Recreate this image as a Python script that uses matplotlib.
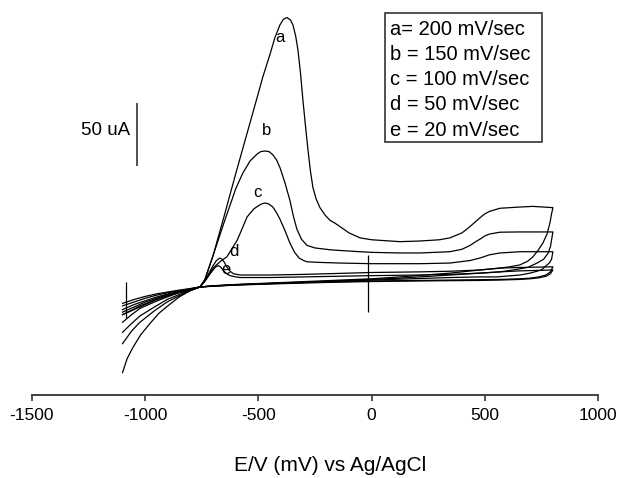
import numpy as np
import matplotlib.pyplot as plt

plt.rcParams['font.family'] = ['Liberation Sans', 'DejaVu Sans']

# cyclic voltammograms, potential in mV, current in uA (arbitrary zero)
# a = 200 mV/sec
a_fwd_E = [-1100, -1050, -1000, -950, -900, -850, -800, -758, -736, -700, -650, -600, -550, -500, -480,
           -450, -427, -405, -390, -374, -358, -347, -335, -325, -314, -303, -292, -281, -270, -259, -245,
           -228, -205, -184, -160, -140, -100, -51, 0, 125, 214, 300, 346, 400, 435, 460, 479, 500, 520,
           567, 655, 713, 801]
a_fwd_I = [-22, -18, -14, -10, -7, -4.5, -2.5, 0, 6, 25, 57, 90, 122, 154, 167,
           184, 198, 208, 212.5, 214, 212, 208, 199, 188, 170, 148, 128, 109, 92, 79, 70,
           63, 57, 53, 50.5, 48, 43, 39, 37.5, 36, 36.5, 37.5, 39, 43, 48, 52, 55, 58, 60,
           62.5, 63.5, 64, 63]
a_rev_E = [801, 795, 788, 775, 757, 735, 713, 690, 655, 610, 567, 479, 346, 125, 0, -200, -400,
           -600, -700, -758, -802, -850, -900, -940, -979, -1020, -1054, -1080, -1100]
a_rev_I = [63, 58, 51, 42, 35, 29, 24, 20.5, 17.5, 16, 15, 13.5, 11, 8, 6.5, 5, 3.5,
           2, 1, 0, -3, -8, -15, -21, -29, -38, -48, -57, -68]

# b = 150 mV/sec
b_fwd_E = [-1100, -1050, -1000, -950, -900, -850, -800, -758, -736, -700, -650, -600, -570, -537, -506,
           -490, -471, -453, -436, -420, -405, -383, -361, -345, -330, -310, -285, -250, -228, -180, -140,
           -51, 0, 125, 214, 346, 400, 435, 460, 479, 500, 520, 567, 655, 801]
b_fwd_I = [-20, -16, -12, -9, -6, -4, -2, 0, 6, 25, 52, 78, 90, 100, 105.5,
           107.5, 108, 107.5, 105, 101, 95, 83, 69, 56, 46, 38, 33, 31, 30.5, 29.5, 29,
           28, 27.5, 27, 27, 28, 30, 33, 36, 38, 40.5, 42, 43.5, 43.7, 43.7]
b_rev_E = [801, 790, 780, 760, 731, 690, 625, 567, 479, 346, 125, 0, -200, -400, -600, -700, -758,
           -802, -850, -904, -960, -1023, -1060, -1100]
b_rev_I = [43.7, 32, 27, 22, 19, 15.5, 13.5, 12, 11, 9.5, 7, 6, 4.5, 3.2, 1.8, 0.8, 0,
           -3, -7, -12, -19, -28, -35, -45]

# c = 100 mV/sec
c_fwd_E = [-1100, -1050, -1000, -950, -900, -850, -800, -758, -736, -700, -670, -639, -594, -570, -550,
           -520, -500, -485, -471, -455, -436, -420, -405, -383, -361, -340, -320, -300, -285, -228, -140,
           0, 214, 346, 435, 479, 520, 567, 655, 801]
c_fwd_I = [-18, -14, -11, -8, -5.5, -3.5, -1.8, 0, 5, 15, 20, 24, 37, 47, 55.6,
           62, 64.5, 66, 66.7, 66, 63.5, 59, 54, 45, 35, 27.5, 23, 21, 20, 19.5, 19,
           18.5, 18.5, 19, 21, 23, 25.5, 27, 28, 28]
c_rev_E = [801, 795, 785, 775, 750, 700, 655, 554, 479, 346, 125, 0, -200, -400, -600, -700, -758,
           -802, -850, -904, -960, -1023, -1060, -1100]
c_rev_I = [28, 22, 19, 17.5, 13.5, 11, 9.5, 8, 8, 7.5, 6.2, 5.5, 4.2, 3, 1.6, 0.7, 0,
           -2.5, -6, -10, -16, -23, -29, -36]

# d = 50 mV/sec
d_fwd_E = [-1100, -1050, -1000, -950, -900, -850, -800, -758, -736, -715, -700, -685, -670, -660, -650,
           -640, -625, -610, -581, -450, -300, 0, 214, 346, 479, 567, 655, 801]
d_fwd_I = [-15, -12, -9, -6.5, -4.5, -3, -1.5, 0, 5, 12, 17, 21, 23, 22, 19.5,
           16, 12.5, 10.5, 9.5, 9.5, 10, 11.5, 12, 12.5, 13.5, 15, 15.5, 16]
d_rev_E = [801, 790, 770, 740, 700, 655, 567, 479, 346, 125, 0, -200, -400, -600, -700, -758,
           -802, -850, -904, -960, -1023, -1060, -1100]
d_rev_I = [16, 12, 9.5, 8, 7, 6.5, 6, 5.8, 5.5, 5, 4.8, 4, 3, 1.8, 0.8, 0,
           -2, -4.5, -8, -12, -17, -22, -28]

# e = 20 mV/sec
e_fwd_E = [-1100, -1050, -1000, -950, -900, -850, -800, -758, -736, -715, -700, -688, -676, -665, -655,
           -640, -625, -600, -581, -450, -300, 0, 214, 346, 479, 567, 655, 801]
e_fwd_I = [-13, -10, -7.5, -5.5, -4, -2.5, -1.2, 0, 4.5, 10, 13.5, 16, 17, 15.5, 13,
           10.5, 9, 8, 7.5, 7.5, 8, 9, 9.5, 10, 11, 12, 12.8, 13.5]
e_rev_E = [801, 790, 770, 740, 700, 655, 567, 479, 346, 125, 0, -200, -400, -600, -700, -758,
           -802, -850, -904, -960, -1023, -1060, -1100]
e_rev_I = [13.5, 10.5, 8.5, 7.3, 6.5, 6, 5.5, 5.2, 5, 4.6, 4.3, 3.6, 2.6, 1.5, 0.6, 0,
           -1.8, -4, -7, -10.5, -15, -18.5, -22]

curve_names = ['a', 'b', 'c', 'd', 'e']
label_E = [-405, -466, -506, -608, -643]
label_I = [198.5, 124, 75, 28, 13.5]
legend_lines = ['a= 200 mV/sec', 'b = 150 mV/sec', 'c = 100 mV/sec',
                'd = 50 mV/sec', 'e = 20 mV/sec']
xticks = [-1500, -1000, -500, 0, 500, 1000]

fig = plt.figure(figsize=(6.21, 4.78), dpi=100)
ax = fig.add_axes([0.0515, 0.1736, 0.9114, 0.8264])

loops = [(a_fwd_E + a_rev_E, a_fwd_I + a_rev_I),
         (b_fwd_E + b_rev_E, b_fwd_I + b_rev_I),
         (c_fwd_E + c_rev_E, c_fwd_I + c_rev_I),
         (d_fwd_E + d_rev_E, d_fwd_I + d_rev_I),
         (e_fwd_E + e_rev_E, e_fwd_I + e_rev_I)]
for E, I in loops:
    ax.plot(E, I, color='black', lw=0.9)

for name, x, y in zip(curve_names, label_E, label_I):
    ax.text(x, y, name, fontsize=12, ha='center', va='center')

# marker lines
ax.vlines(-1085, -25, 4, color='black', lw=0.9)
ax.vlines(-15, -20, 25, color='black', lw=0.9)

# 50 uA scale bar
ax.vlines(-1036, 96, 146, color='#333333', lw=1.2)
ax.text(-1067, 124, '50 uA', fontsize=13.5, ha='right', va='center')

ax.set_xlim(-1500, 1000)
ax.set_ylim(-85.8, 227.9)
ax.set_xticks(xticks)
ax.set_xticklabels([str(t) for t in xticks], fontsize=12.5)
ax.set_yticks([])
for s in ['left', 'right', 'top']:
    ax.spines[s].set_visible(False)
ax.spines['bottom'].set_linewidth(1.3)
ax.spines['bottom'].set_color('#333333')
ax.tick_params(axis='x', length=4, width=1.2, color='#333333', pad=5)

# legend box
box = plt.Rectangle((0.620, 0.703), 0.253, 0.270, transform=fig.transFigure,
                    fill=False, edgecolor='#333333', lw=1.2)
fig.patches.append(box)
for i, line in enumerate(legend_lines):
    fig.text(0.628, 0.939 - i * 0.0528, line, fontsize=14.5, va='center', ha='left')

fig.text(0.531, 0.027, 'E/V (mV) vs Ag/AgCl', fontsize=15, ha='center', va='center')

fig.savefig('out.png', dpi=100)
